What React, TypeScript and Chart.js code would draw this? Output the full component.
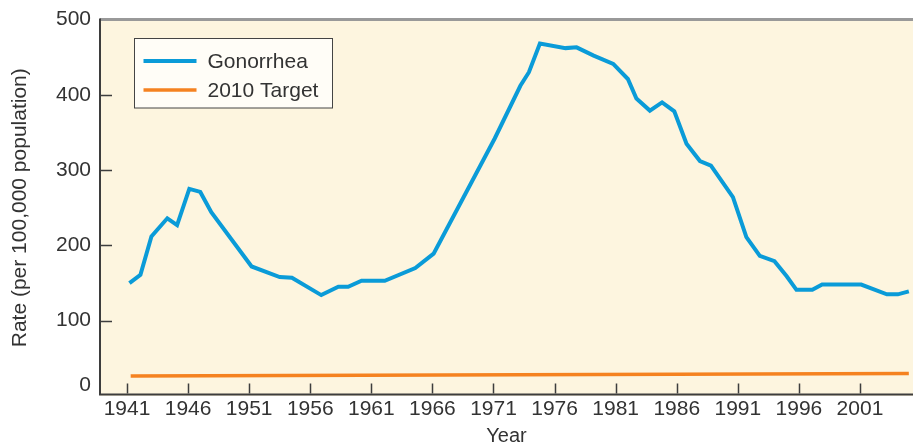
import { useEffect, useRef } from "react";
import { Chart, registerables } from "chart.js";

Chart.register(...registerables);

// Gonorrhea rate per 100,000 population (vertices of the trend line)
const gonorrheaYears = [
  1941.2, 1942.1, 1943.0, 1944.3, 1945.1, 1946.1, 1947.0, 1947.9, 1951.2, 1953.5,
  1954.5, 1956.9, 1958.3, 1959.1, 1960.2, 1962.1, 1964.6, 1966.1, 1971.1, 1973.2,
  1973.9, 1974.8, 1976.9, 1977.8, 1979.2, 1980.8, 1982.0, 1982.7, 1983.8, 1984.8,
  1985.8, 1986.8, 1987.9, 1988.8, 1990.6, 1991.7, 1992.8, 1994.0, 1995.0, 1995.8,
  1997.1, 1997.9, 2001.1, 2003.2, 2004.1, 2005.0,
];
const gonorrheaRates = [
  150, 161, 212, 236, 227, 275, 271, 244, 172, 158,
  157, 134, 145, 145, 153, 153, 170, 189, 342, 412,
  430, 468, 462, 463, 452, 441, 421, 395, 379, 390,
  378, 335, 312, 306, 264, 211, 186, 179, 159, 141,
  141, 148, 148, 135, 135, 139,
];

// Healthy People 2010 target line
const targetYears = [1941.3, 2005.0];
const targetRates = [26.5, 30];

const yearTicks = [1941, 1946, 1951, 1956, 1961, 1966, 1971, 1976, 1981, 1986, 1991, 1996, 2001];
const rateTicks = [0, 100, 200, 300, 400, 500];

const FONT = "'Liberation Sans', Arial, Helvetica, sans-serif";
const TEXT = "#333333";
const AXIS = "#3d3d3d";
const PLOT_BG = "#fdf5df";
const BLUE = "#0a9bd8";
const ORANGE = "#f58220";

const framePlugin = {
  id: "frame",
  beforeDraw(chart: any) {
    const { ctx, chartArea: a } = chart;
    ctx.save();
    ctx.fillStyle = PLOT_BG;
    ctx.fillRect(a.left, a.top, a.right - a.left, a.bottom - a.top);
    ctx.restore();
  },
  afterDraw(chart: any) {
    const { ctx, chartArea: a } = chart;
    const xs = chart.scales.x;
    const ys = chart.scales.y;
    const base = a.bottom - 2.5;
    ctx.save();

    // top rule
    ctx.strokeStyle = "#999999";
    ctx.lineWidth = 3;
    ctx.beginPath();
    ctx.moveTo(a.left, a.top);
    ctx.lineTo(a.right, a.top);
    ctx.stroke();

    // left and bottom axis lines
    ctx.strokeStyle = AXIS;
    ctx.lineWidth = 2;
    ctx.beginPath();
    ctx.moveTo(a.left, a.top - 1);
    ctx.lineTo(a.left, base + 1);
    ctx.lineTo(a.right, base + 1);
    ctx.stroke();

    // inward tick marks
    ctx.lineWidth = 1.5;
    ctx.beginPath();
    for (const v of rateTicks) {
      if (v === 0 || v === 500) continue;
      const y = Math.round(ys.getPixelForValue(v)) + 0.5;
      ctx.moveTo(a.left, y);
      ctx.lineTo(a.left + 12, y);
    }
    for (const v of yearTicks) {
      const x = Math.round(xs.getPixelForValue(v)) + 0.5;
      ctx.moveTo(x, base);
      ctx.lineTo(x, base - 10);
    }
    ctx.stroke();

    // legend box
    const lx = a.left + 34.5;
    const ly = a.top + 19;
    const lw = 198;
    const lh = 69.5;
    ctx.fillStyle = "#fffdf7";
    ctx.fillRect(lx, ly, lw, lh);
    ctx.strokeStyle = "#444444";
    ctx.lineWidth = 1;
    ctx.strokeRect(lx, ly, lw, lh);

    ctx.font = `21px ${FONT}`;
    ctx.textBaseline = "middle";
    ctx.textAlign = "left";
    chart.data.datasets.forEach((ds: any, i: number) => {
      const y = ly + 22.5 + i * 29;
      ctx.strokeStyle = ds.borderColor;
      ctx.lineWidth = ds.borderWidth;
      ctx.beginPath();
      ctx.moveTo(lx + 9, y);
      ctx.lineTo(lx + 62, y);
      ctx.stroke();
      ctx.fillStyle = TEXT;
      ctx.fillText(ds.label, lx + 73, y + 1);
    });

    ctx.restore();
  },
};

export default function App() {
  const canvasRef = useRef<HTMLCanvasElement | null>(null);

  useEffect(() => {
    const canvas = canvasRef.current;
    if (!canvas) return;

    const chart = new Chart(canvas, {
      type: "line",
      data: {
        datasets: [
          {
            label: "Gonorrhea",
            data: gonorrheaYears.map((x, i) => ({ x, y: gonorrheaRates[i] })),
            borderColor: BLUE,
            borderWidth: 4,
            pointRadius: 0,
            tension: 0,
            fill: false,
          },
          {
            label: "2010 Target",
            data: targetYears.map((x, i) => ({ x, y: targetRates[i] })),
            borderColor: ORANGE,
            borderWidth: 3.5,
            pointRadius: 0,
            tension: 0,
            fill: false,
          },
        ],
      },
      options: {
        animation: false,
        responsive: false,
        layout: { padding: { top: 19, right: 0, bottom: 0, left: 0 } },
        plugins: {
          legend: { display: false },
          tooltip: { enabled: false },
        },
        scales: {
          x: {
            type: "linear",
            min: 1938.79,
            max: 2005.34,
            afterBuildTicks: (s: any) => {
              s.ticks = yearTicks.map((value) => ({ value }));
            },
            afterFit: (s: any) => {
              s.height = 50;
            },
            grid: { display: false, drawTicks: false },
            border: { display: false },
            ticks: {
              autoSkip: false,
              maxRotation: 0,
              padding: 3,
              color: TEXT,
              font: { family: FONT, size: 21, lineHeight: 1 },
              callback: (v: any) => String(v),
            },
            title: {
              display: true,
              text: "Year",
              color: TEXT,
              padding: 0,
              font: { family: FONT, size: 20, lineHeight: 1 },
            },
          },
          y: {
            type: "linear",
            min: 0,
            max: 500,
            afterBuildTicks: (s: any) => {
              s.ticks = rateTicks.map((value) => ({ value }));
            },
            afterFit: (s: any) => {
              s.width = 100;
            },
            grid: { display: false, drawTicks: false },
            border: { display: false },
            ticks: {
              padding: 9,
              color: TEXT,
              font: { family: FONT, size: 21, lineHeight: 1 },
              callback: (v: any) => (v === 0 ? ["0", ""] : String(v)),
            },
            title: {
              display: true,
              text: "Rate (per 100,000 population)",
              color: TEXT,
              padding: { top: 8, bottom: 0 },
              font: { family: FONT, size: 21, lineHeight: 1.2 },
            },
          },
        },
      },
      plugins: [framePlugin],
    });

    return () => chart.destroy();
  }, []);

  return (
    <div style={{ position: "fixed", left: 0, top: 0, width: 913, height: 446, background: "#ffffff" }}>
      <canvas ref={canvasRef} width={913} height={446} style={{ display: "block" }} />
    </div>
  );
}
